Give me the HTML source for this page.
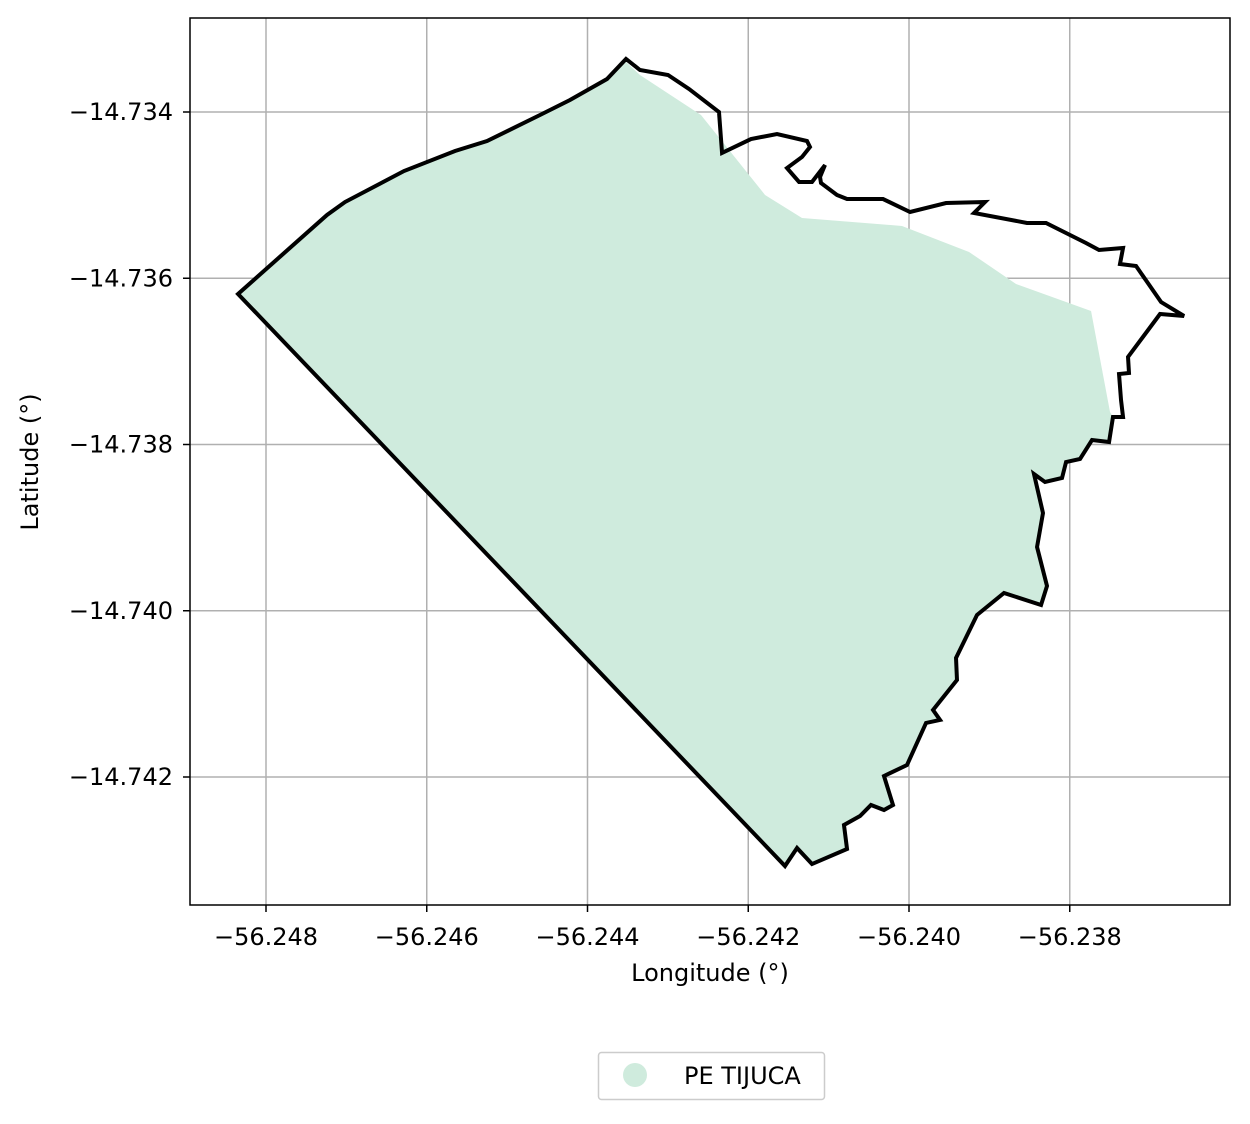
<!DOCTYPE html>
<html><head><meta charset="utf-8"><style>
body{margin:0;background:#fff;}
svg text{font-family:"DejaVu Sans","Liberation Sans",sans-serif;fill:#000;}
</style></head><body>
<svg id="chart" width="1250" height="1119" xmlns="http://www.w3.org/2000/svg">
<rect width="1250" height="1119" fill="#fff"/>
<g id="grid"></g>
<g id="marks"></g>
<rect x="190" y="18" width="1040" height="887" fill="none" stroke="#000" stroke-width="1.5"/>
<g id="ticks"></g>
<text x="710" y="981" font-size="24" text-anchor="middle">Longitude (°)</text>
<text x="38" y="462" font-size="24" text-anchor="middle" transform="rotate(-90 38 462)">Latitude (°)</text>
<g>
<rect x="598.5" y="1052.5" width="226" height="47" rx="3" fill="#fff" stroke="#ccc" stroke-width="1.5"/>
<circle cx="635" cy="1075" r="12" fill="#cfebdd"/>
<text x="684" y="1084" font-size="24">PE TIJUCA</text>
</g>
</svg>
<script>
const xTicks=[-56.248,-56.246,-56.244,-56.242,-56.240,-56.238];
const yTicks=[-14.734,-14.736,-14.738,-14.740,-14.742];
const xTickLabels=["−56.248","−56.246","−56.244","−56.242","−56.240","−56.238"];
const yTickLabels=["−14.734","−14.736","−14.738","−14.740","−14.742"];
const outlineLon=[-56.248348,-56.247241,-56.247017,-56.246283,-56.245648,-56.245250,-56.244591,-56.244218,-56.243757,-56.243521,-56.243347,-56.242998,-56.242737,-56.242364,-56.242326,-56.241966,-56.241642,-56.241269,-56.241232,-56.241331,-56.241518,-56.241368,-56.241207,-56.241045,-56.241107,-56.241095,-56.240896,-56.240771,-56.240323,-56.239987,-56.239539,-56.239054,-56.239191,-56.238532,-56.238295,-56.237798,-56.237636,-56.237337,-56.237375,-56.237175,-56.236864,-56.236578,-56.236877,-56.237275,-56.237263,-56.237387,-56.237362,-56.237337,-56.237462,-56.237511,-56.237723,-56.237872,-56.238046,-56.238096,-56.238308,-56.238445,-56.238333,-56.238407,-56.238283,-56.238357,-56.238818,-56.239154,-56.239415,-56.239403,-56.239701,-56.239614,-56.239788,-56.240025,-56.240311,-56.240199,-56.240311,-56.240473,-56.240609,-56.240809,-56.240771,-56.241207,-56.241393,-56.241543];
const outlineLat=[-14.736189,-14.735239,-14.735083,-14.734710,-14.734469,-14.734349,-14.734036,-14.733856,-14.733603,-14.733362,-14.733495,-14.733555,-14.733723,-14.734000,-14.734493,-14.734325,-14.734265,-14.734349,-14.734421,-14.734541,-14.734674,-14.734842,-14.734842,-14.734638,-14.734782,-14.734854,-14.734998,-14.735047,-14.735047,-14.735203,-14.735095,-14.735083,-14.735215,-14.735335,-14.735335,-14.735576,-14.735660,-14.735636,-14.735829,-14.735853,-14.736286,-14.736454,-14.736430,-14.736947,-14.737140,-14.737152,-14.737465,-14.737669,-14.737669,-14.737970,-14.737946,-14.738174,-14.738211,-14.738403,-14.738451,-14.738355,-14.738824,-14.739233,-14.739702,-14.739931,-14.739786,-14.740051,-14.740568,-14.740833,-14.741194,-14.741314,-14.741350,-14.741856,-14.741988,-14.742337,-14.742397,-14.742337,-14.742469,-14.742577,-14.742866,-14.743047,-14.742854,-14.743071];
const fillTopLon=[-56.248348,-56.247241,-56.247017,-56.246283,-56.245648,-56.245250,-56.244591,-56.244218,-56.243757,-56.243521,-56.243347,-56.242588,-56.241791,-56.241331,-56.240087,-56.239253,-56.238668,-56.237735,-56.237499];
const fillTopLat=[-14.736189,-14.735239,-14.735083,-14.734710,-14.734469,-14.734349,-14.734036,-14.733856,-14.733603,-14.733398,-14.733555,-14.734036,-14.734998,-14.735275,-14.735371,-14.735684,-14.736069,-14.736394,-14.737609];
const fillJoinIndex=48;
const NS="http://www.w3.org/2000/svg";
function xs(v){return 266+(v+56.248)/0.002*160.75;}
function ys(v){return 112-(v+14.734)/0.002*166.25;}
function mk(t,a,p){const e=document.createElementNS(NS,t);for(const k in a)e.setAttribute(k,a[k]);p.appendChild(e);return e;}
const grid=document.getElementById('grid'),ticks=document.getElementById('ticks'),marks=document.getElementById('marks');
xTicks.forEach((v,i)=>{const x=xs(v);
 const g=mk('line',{x1:x,x2:x,y1:18,y2:905,stroke:'#b0b0b0','stroke-width':1.5},grid);
 
 
 const t=mk('line',{x1:x,x2:x,y1:905,y2:912,stroke:'#000','stroke-width':1.5},ticks);
 
 
 const l=mk('text',{x:x,y:945,'font-size':24,'text-anchor':'middle'},ticks);l.textContent=xTickLabels[i];
 
 
});
yTicks.forEach((v,i)=>{const y=ys(v);
 const g=mk('line',{x1:190,x2:1230,y1:y,y2:y,stroke:'#b0b0b0','stroke-width':1.5},grid);
 
 
 const t=mk('line',{x1:183,x2:190,y1:y,y2:y,stroke:'#000','stroke-width':1.5},ticks);
 
 
 const l=mk('text',{x:173,y:y+8,'font-size':24,'text-anchor':'end'},ticks);l.textContent=yTickLabels[i];
 
 
});
let fp=fillTopLon.map((v,i)=>xs(v)+','+ys(fillTopLat[i]));
for(let i=fillJoinIndex;i<outlineLon.length;i++)fp.push(xs(outlineLon[i])+','+ys(outlineLat[i]));
const f=mk('polygon',{points:fp.join(' '),fill:'#cfebdd',stroke:'none'},marks);


const op=outlineLon.map((v,i)=>xs(v)+','+ys(outlineLat[i])).join(' ');
const o=mk('polygon',{points:op,fill:'none',stroke:'#000','stroke-width':4,'stroke-linejoin':'miter'},marks);


</script>
</body></html>
